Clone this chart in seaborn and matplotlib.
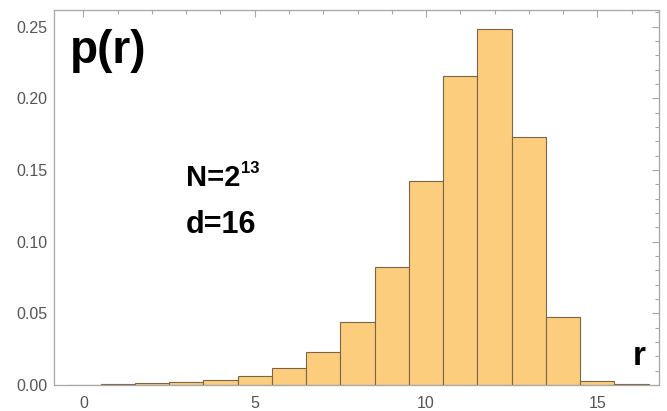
import matplotlib
matplotlib.use("Agg")
import matplotlib.pyplot as plt
from matplotlib.ticker import MultipleLocator
import seaborn as sns
import pandas as pd

# Data
r_values = list(range(0, 17))
p_values = [0.0002, 0.0005, 0.0012, 0.0020, 0.0033, 0.0061, 0.0116, 0.0228,
            0.0440, 0.0820, 0.1424, 0.2154, 0.2486, 0.1728, 0.0472, 0.0026, 0.0004]
x_ticks = [0, 5, 10, 15]
y_ticks = [0.00, 0.05, 0.10, 0.15, 0.20, 0.25]
y_tick_labels = ["0.00", "0.05", "0.10", "0.15", "0.20", "0.25"]

sns.set_style("white")
plt.rcParams["font.family"] = ["Liberation Sans", "DejaVu Sans"]

df = pd.DataFrame({"r": r_values, "p": p_values})

fig = plt.figure(figsize=(6.67, 4.11), dpi=100)
ax = fig.add_axes([54 / 667, 26 / 411, 605 / 667, 375 / 411])

sns.histplot(data=df, x="r", weights="p", discrete=True, stat="count",
             color="#fdcd7e", alpha=1.0, edgecolor="#7a6646", linewidth=0.8, ax=ax)

ax.set_xlim(-0.86, 16.8)
ax.set_ylim(0, 0.2617)
ax.set_xlabel("")
ax.set_ylabel("")

ax.set_xticks(x_ticks)
ax.set_xticklabels([str(t) for t in x_ticks])
ax.xaxis.set_minor_locator(MultipleLocator(1))
ax.set_yticks(y_ticks)
ax.set_yticklabels(y_tick_labels)
ax.yaxis.set_minor_locator(MultipleLocator(0.01))

frame_col = "#a6a6a6"
for s in ax.spines.values():
    s.set_color(frame_col)
    s.set_linewidth(0.9)
    s.set_visible(True)

ax.tick_params(which="both", direction="in", top=True, right=True,
               color=frame_col, width=0.8)
ax.tick_params(which="major", length=5)
ax.tick_params(which="minor", length=3)
ax.tick_params(axis="x", which="major", labelsize=11.5, labelcolor="#555555", pad=8)
ax.tick_params(axis="y", which="major", labelsize=11.5, labelcolor="#555555", pad=5)

ax.text(0.026, 0.858, "p(r)", transform=ax.transAxes, fontsize=33,
        fontweight="bold", va="baseline", ha="left", color="black")
ax.text(0.218, 0.531, "N=2", transform=ax.transAxes,
        fontsize=21, fontweight="bold", va="baseline", ha="left", color="black")
ax.text(0.309, 0.5645, "13", transform=ax.transAxes,
        fontsize=12, fontweight="bold", va="baseline", ha="left", color="black")
ax.text(0.218, 0.405, "d=16", transform=ax.transAxes, fontsize=22,
        fontweight="bold", va="baseline", ha="left", color="black")
ax.text(0.957, 0.053, "r", transform=ax.transAxes, fontsize=24,
        fontweight="bold", va="baseline", ha="left", color="black")

fig.savefig("out.png", dpi=100)
